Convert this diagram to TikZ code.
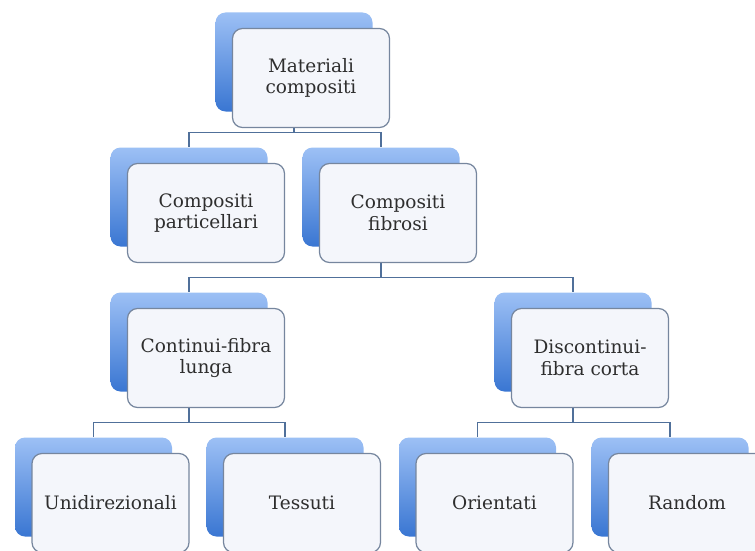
\documentclass[tikz,border=0pt]{standalone}
\usepackage{fontspec}
\setmainfont{DejaVu Serif}
\usetikzlibrary{positioning,calc,backgrounds}

\definecolor{boxtop}{HTML}{9CC0F5}
\definecolor{boxbot}{HTML}{3A76D2}
\definecolor{frameline}{HTML}{76869E}
\definecolor{panel}{HTML}{F4F6FB}
\definecolor{linkcol}{HTML}{50709A}
\definecolor{inkcol}{HTML}{2E2E2E}

\begin{document}
\begin{tikzpicture}[x=1pt,y=-1pt,
    backbox/.style={rounded corners=10pt, minimum width=157pt, minimum height=99pt,
        top color=boxtop, bottom color=boxbot, draw=none},
    frontbox/.style={rounded corners=10pt, minimum width=157pt, minimum height=99pt,
        fill=panel, draw=frameline, line width=1.2pt, align=center, text=inkcol,
        font=\fontsize{18.5}{21.5}\selectfont, inner sep=2pt},
    link/.style={draw=linkcol, line width=1.2pt}]
    \useasboundingbox (0,0) rectangle (755,551);
    \clip (0,0) rectangle (755,551);

    % Boxes: back panel plus front card
    \foreach \n/\x/\y/\t in {
        mat/294/62/{Materiali\\compositi},
        part/189/197/{Compositi\\particellari},
        fib/381/197/{Compositi\\fibrosi},
        cont/189/342/{Continui-fibra\\lunga},
        disc/573/342/{Discontinui-\\fibra corta},
        uni/93.5/487/{Unidirezionali},
        tes/285/487/{Tessuti},
        ori/477.5/487/{Orientati},
        ran/670/487/{Random}} {
        \node[backbox] (\n-b) at (\x,\y) {};
        \node[frontbox] (\n) at ([shift={(17,16)}]\n-b.center) {\t};
    }

    % Connectors
    \begin{scope}[on background layer]
        \foreach \p/\c in {mat/part, mat/fib, fib/cont, fib/disc,
                           cont/uni, cont/tes, disc/ori, disc/ran}
            \draw[link] (\p-b.south) |- ($(\c-b.north)-(0,15)$) -- (\c-b.north);
    \end{scope}
\end{tikzpicture}
\end{document}
